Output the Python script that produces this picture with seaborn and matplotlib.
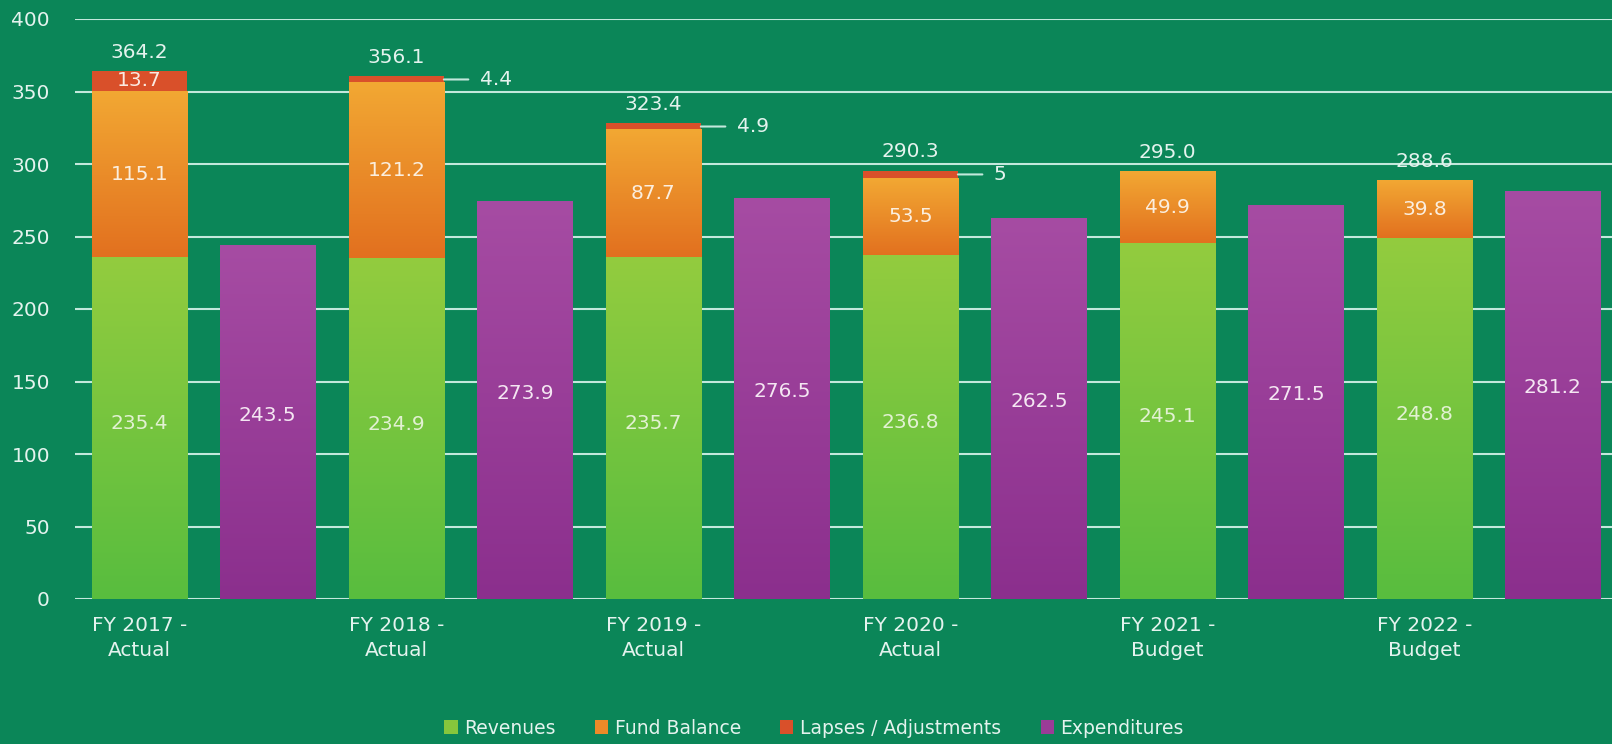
import numpy as np
import pandas as pd
import matplotlib
matplotlib.use("Agg")
import matplotlib.pyplot as plt
from matplotlib.colors import LinearSegmentedColormap
from matplotlib.patches import Patch
import seaborn as sns

# ---- data (millions) ----
years = ["FY 2017 -\nActual", "FY 2018 -\nActual", "FY 2019 -\nActual",
         "FY 2020 -\nActual", "FY 2021 -\nBudget", "FY 2022 -\nBudget"]
revenues = [235.4, 234.9, 235.7, 236.8, 245.1, 248.8]
fund_balance = [115.1, 121.2, 87.7, 53.5, 49.9, 39.8]
lapses = [13.7, 4.4, 4.9, 5.0, 0.0, 0.0]
lapse_labels = ["13.7", "4.4", "4.9", "5", "", ""]
expenditures = [243.5, 273.9, 276.5, 262.5, 271.5, 281.2]
totals = [364.2, 356.1, 323.4, 290.3, 295.0, 288.6]
yticks = [0, 50, 100, 150, 200, 250, 300, 350, 400]
series_names = ["Revenues", "Fund Balance", "Lapses / Adjustments", "Expenditures"]

# ---- styling ----
BG = "#0b8658"
GRID = "#c3e8dc"
TXT = "#e4f3ee"
C_REV = "#7cc63e"
C_REV_TOP = "#93cc3f"
C_REV_BOT = "#58bd3e"
C_FUND = "#ec8a28"
C_FUND_TOP = "#f2a833"
C_FUND_BOT = "#e2701f"
C_LAPSE = "#d9502a"
C_EXP = "#9a3c97"
C_EXP_TOP = "#a64ca3"
C_EXP_BOT = "#8b2f8d"

sns.set_theme(style="white")
plt.rcParams["font.family"] = ["DejaVu Sans"]

# two slots per year: sources stack, then expenditures
slots = []
for i in range(len(years)):
    slots += [f"src{i}", f"exp{i}"]
src_slots = slots[0::2]
exp_slots = slots[1::2]

src = pd.DataFrame({"slot": src_slots, "rev": revenues,
                    "fund": fund_balance, "lapse": lapses})
src["rev_fund"] = src["rev"] + src["fund"]
src["top"] = src["rev_fund"] + src["lapse"]
exp = pd.DataFrame({"slot": exp_slots, "exp": expenditures})

W, H = 1612, 744
fig = plt.figure(figsize=(W / 100, H / 100), dpi=100)
fig.patch.set_facecolor(BG)
ax = fig.add_axes([75 / W, 1 - 599 / H, 1 - 75 / W, (599 - 19) / H])
ax.set_facecolor(BG)

BAR_W = 0.74


def draw(data, col, color):
    n0 = len(ax.patches)
    sns.barplot(data=data, x="slot", y=col, order=slots, color=color,
                saturation=1, width=BAR_W, linewidth=0, errorbar=None,
                ax=ax, zorder=3)
    return ax.patches[n0:]


def shade(patch, y0, y1, c_bot, c_top):
    cmap = LinearSegmentedColormap.from_list("g", [c_bot, c_top])
    grad = np.linspace(0, 1, 256).reshape(-1, 1)
    x = patch.get_x()
    ax.imshow(grad, extent=[x, x + patch.get_width(), y0, y1], origin="lower",
              cmap=cmap, aspect="auto", zorder=3.2, interpolation="bicubic")


# stacked sources drawn as overlapping cumulative layers
draw(src, "top", C_LAPSE)
fund_patches = draw(src, "rev_fund", C_FUND)
rev_patches = draw(src, "rev", C_REV)
exp_patches = draw(exp, "exp", C_EXP)

for p, r, rf in zip(fund_patches, src["rev"], src["rev_fund"]):
    shade(p, r, rf, C_FUND_BOT, C_FUND_TOP)
for p, r in zip(rev_patches, src["rev"]):
    shade(p, 0, r, C_REV_BOT, C_REV_TOP)
for p, e in zip(exp_patches, expenditures):
    shade(p, 0, e, C_EXP_BOT, C_EXP_TOP)

FS = 14.5
for i in range(len(years)):
    xs = 2 * i
    xe = 2 * i + 1
    r, f, l = revenues[i], fund_balance[i], lapses[i]
    ax.text(xs, r / 2 + 3, f"{r:.1f}", ha="center", va="center",
            color="#e2f1d2", fontsize=FS, zorder=5)
    ax.text(xs, r + f / 2, f"{f:.1f}", ha="center", va="center",
            color="#fbeede", fontsize=FS, zorder=5)
    ax.text(xe, expenditures[i] / 2 + 5, f"{expenditures[i]:.1f}",
            ha="center", va="center", color="#f4e6f2", fontsize=FS, zorder=5)
    top = r + f + l
    if l >= 8:
        ax.text(xs, r + f + l / 2, lapse_labels[i], ha="center", va="center",
                color="#fbe9e0", fontsize=FS, zorder=5)
    elif l > 0:
        ax.annotate(lapse_labels[i], xy=(xs + BAR_W / 2, r + f + l / 2),
                    xytext=(26, 0), textcoords="offset points",
                    ha="left", va="center", color=TXT, fontsize=FS, zorder=5,
                    arrowprops=dict(arrowstyle="-", color=GRID, lw=1.5,
                                    shrinkA=6, shrinkB=0))
    ax.text(xs, top + 13, f"{totals[i]:.1f}", ha="center", va="center",
            color=TXT, fontsize=FS, zorder=5)

ax.set_ylim(0, 400)
ax.set_xlim(-0.5, len(slots) - 0.54)
ax.set_yticks(yticks)
ax.set_yticklabels([str(v) for v in yticks])
ax.set_xticks(range(0, len(slots), 2))
ax.set_xticklabels(years, linespacing=1.45)
ax.set_xlabel("")
ax.set_ylabel("")
ax.yaxis.grid(True, color=GRID, lw=1.5, zorder=0)
ax.xaxis.grid(False)
ax.set_axisbelow(True)
for s in ax.spines.values():
    s.set_visible(False)
ax.tick_params(axis="both", length=0, colors=TXT, labelsize=FS)
ax.tick_params(axis="y", pad=18)
ax.tick_params(axis="x", pad=12)

handles = [Patch(facecolor=c, edgecolor="none")
           for c in ["#86c63c", C_FUND, C_LAPSE, C_EXP]]
fig.legend(handles, series_names, loc="center",
           bbox_to_anchor=(0.505, 1 - 728 / H), ncol=4, frameon=False,
           fontsize=13.5, handlelength=0.7, handleheight=0.7,
           handletextpad=0.35, columnspacing=2.1, labelcolor=TXT)

fig.savefig("out.png", dpi=100, facecolor=BG)
